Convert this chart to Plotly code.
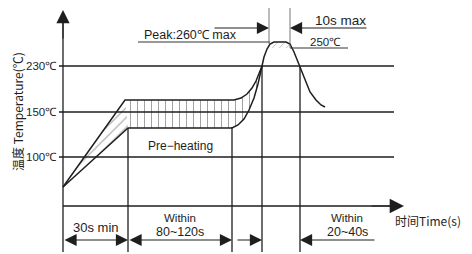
import plotly.graph_objects as go

# ---------------- data (schematic reflow profile, drawn in picture units) ----------------
temp_labels = ["230℃", "150℃", "100℃"]
temp_levels = [66, 112, 157]          # vertical positions of the temperature guide lines
axis_x0 = 63                          # time origin
axis_y0 = 206                         # temperature baseline
phase_x = [128, 232, 262, 300]        # phase boundaries (end of ramp, end of preheat, reflow start/end)
phase_top = [128, 127, 66, 67]

upper_x = [63, 125, 234, 241, 247, 252, 256, 259, 262]
upper_y = [187, 100, 100, 98, 94, 88, 81, 74, 66]
lower_x = [63, 128, 232, 238, 244, 249, 254, 258, 262]
lower_y = [187, 128, 128, 125, 119, 110, 98, 84, 66]
peak_x = [262, 264, 267, 270, 274, 286, 290, 294, 300, 305, 310, 316, 321, 325]
peak_y = [66, 57, 49, 44, 42, 42, 44, 52, 67, 80, 92, 100, 105, 107]

peak_level = 42        # 260℃ max
liquid_level = 48      # 250℃
ten_s_x = [269, 290]   # 10 s max window

INK = "#1e1e1e"
FONT = "Liberation Sans, Arial, sans-serif"
CJK = "Noto Sans CJK SC, Liberation Sans, sans-serif"

# the page body has an 8px margin, so the figure starts at (8, 8) of the window
PAGE = 8
W, H = 472, 254

fig = go.Figure()

def seg(xs, ys, width=1.3, color=INK):
    fig.add_trace(go.Scatter(x=xs, y=ys, mode="lines",
                             line=dict(color=color, width=width),
                             hoverinfo="skip", showlegend=False))

# hatched band: ramp part
ramp_poly_x = [upper_x[0], upper_x[1], lower_x[1], lower_x[0]]
ramp_poly_y = [upper_y[0], upper_y[1], lower_y[1], lower_y[0]]
fig.add_trace(go.Scatter(x=ramp_poly_x, y=ramp_poly_y, mode="lines", fill="toself",
                         line=dict(width=0), fillcolor="rgba(0,0,0,0)",
                         fillpattern=dict(shape="/", size=7, solidity=0.18,
                                          fgcolor="#666", bgcolor="rgba(0,0,0,0)"),
                         hoverinfo="skip", showlegend=False))
# hatched band: plateau part
plat_x = [lower_x[1]] + upper_x[2:] + lower_x[2:][::-1] + [lower_x[1]]
plat_y = [upper_y[1]] + upper_y[2:] + lower_y[2:][::-1] + [lower_y[1]]
fig.add_trace(go.Scatter(x=plat_x, y=plat_y, mode="lines", fill="toself",
                         line=dict(width=0), fillcolor="rgba(0,0,0,0)",
                         fillpattern=dict(shape="|", size=7, solidity=0.14,
                                          fgcolor="#444", bgcolor="rgba(0,0,0,0)"),
                         hoverinfo="skip", showlegend=False))
# peak hatch
ph_x = [267] + peak_x[3:7] + [292]
ph_y = [liquid_level] + peak_y[3:7] + [liquid_level]
fig.add_trace(go.Scatter(x=ph_x, y=ph_y, mode="lines", fill="toself",
                         line=dict(width=0), fillcolor="rgba(0,0,0,0)",
                         fillpattern=dict(shape="/", size=5, solidity=0.12,
                                          fgcolor="#333", bgcolor="rgba(0,0,0,0)"),
                         hoverinfo="skip", showlegend=False))

# temperature guide lines
gx, gy = [], []
for lv in temp_levels:
    gx += [59, 394, None]
    gy += [lv, lv, None]
seg(gx, gy, 1.3)

# axes
seg([axis_x0, axis_x0], [252, 22], 1.3)
seg([axis_x0, 390], [axis_y0, axis_y0], 1.3)

# phase boundaries
vx, vy = [], []
for px, pt in zip(phase_x, phase_top):
    vx += [px, px, None]
    vy += [pt, 252, None]
seg(vx, vy, 1.3)

# profile curves
seg(upper_x, upper_y, 1.5)
seg(lower_x, lower_y, 1.5)
seg(peak_x, peak_y, 1.5)

# peak / 250 lines
seg([138, 270], [peak_level, peak_level], 1.0, "#333")
seg([290, 348], [liquid_level, liquid_level], 1.0, "#333")
# 10 s markers
seg([ten_s_x[0], ten_s_x[0]], [5, 44], 0.8, "#555")
seg([ten_s_x[1], ten_s_x[1]], [5, 48], 0.8, "#555")

ann = []

def arrow(x_head, y_head, x_tail, y_tail, size=2.2, both=False):
    ann.append(dict(x=x_head, y=y_head, ax=x_tail, ay=y_tail,
                    xref="x", yref="y", axref="x", ayref="y",
                    showarrow=True, arrowhead=2, arrowsize=size, arrowwidth=1.1,
                    arrowcolor=INK, standoff=0, startstandoff=0, text="",
                    arrowside="end+start" if both else "end", startarrowhead=2,
                    startarrowsize=size))

# axis arrows
arrow(axis_x0, 10, axis_x0, 40, 2.4)
arrow(404, axis_y0, 370, axis_y0, 2.6)
# 10 s max arrows
arrow(ten_s_x[0], 28, 213, 28, 2.2)
arrow(ten_s_x[1], 28, 368, 28, 2.2)
# bottom time-span arrows
arrow(128, 240, 63, 240, 2.2, both=True)
arrow(232, 240, 128, 240, 2.2, both=True)
arrow(262, 240, 236, 240, 2.2)
arrow(300, 240, 376, 240, 2.2)

def text(x, y, s, size=12, font=FONT, xanchor="center", angle=0):
    ann.append(dict(x=x, y=y, xref="x", yref="y", text=s, showarrow=False,
                    font=dict(family=font, size=size, color=INK),
                    xanchor=xanchor, yanchor="middle", textangle=angle))

for lab, lv in zip(temp_labels, temp_levels):
    text(59, lv, lab, 11.5, xanchor="right")

text(17, 112, "温度 Temperature(℃)", 12, font=CJK, angle=-90)
text(190, 35, "Peak:260℃ max", 12.5)
text(325, 42, "250℃", 11.5)
text(340, 20, "10s max", 13.5)
text(180, 146, "Pre−heating", 12)
text(96, 227, "30s min", 13)
text(180, 218, "Within", 11.5)
text(180, 232, "80~120s", 12.5)
text(347, 218, "Within", 11.5)
text(347, 232, "20~40s", 12.5)
text(428, 220, "时间Time(s)", 12, font=CJK)

fig.update_layout(
    width=W - PAGE, height=H - PAGE,
    margin=dict(l=0, r=0, t=0, b=0),
    paper_bgcolor="white", plot_bgcolor="white",
    xaxis=dict(range=[PAGE, W], visible=False, fixedrange=True),
    yaxis=dict(range=[H, PAGE], visible=False, fixedrange=True),
    annotations=ann, showlegend=False,
)

fig.write_html("out.html")
